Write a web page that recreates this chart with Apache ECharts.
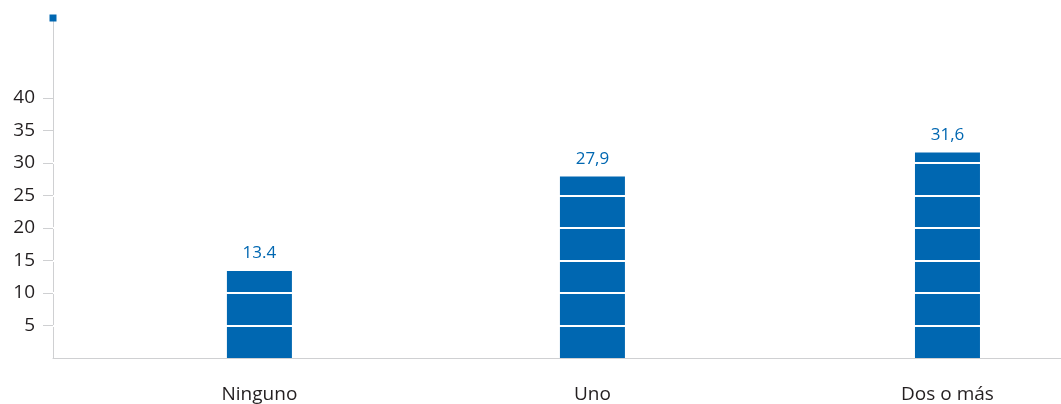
<!DOCTYPE html>
<html>
<head>
<meta charset="utf-8">
<script src="https://cdn.jsdelivr.net/npm/echarts@6/dist/echarts.min.js"></script>
<style>
  html, body { margin: 0; padding: 0; background: #fff; }
  #chart { width: 1061px; height: 404px; }
</style>
</head>
<body>
<div id="chart"></div>
<script>
var categories = ["Ninguno", "Uno", "Dos o más"];
var positions = [1, 1.968, 3];
var values = [13.4, 27.9, 31.6];
var valueLabels = ["13.4", "27,9", "31,6"];
var yTicks = [5, 10, 15, 20, 25, 30, 35, 40];
var whiteLines = [5, 10, 15, 20, 25, 30];

var blue = "#0067b1";
var chart = echarts.init(document.getElementById("chart"));

var barData = values.map(function (v, i) {
  return [positions[i], v];
});
var labelData = values.map(function (v, i) {
  return { value: [positions[i], v], label: { formatter: valueLabels[i] } };
});

var option = {
  animation: false,
  grid: { left: 53, right: 0, top: 18, bottom: 46 },
  xAxis: {
    type: "value",
    min: 0.4,
    max: 3.33,
    splitLine: { show: false },
    axisLine: { show: true, lineStyle: { color: "#cfd0d2", width: 1 } },
    axisTick: { show: false },
    axisLabel: {
      customValues: positions,
      formatter: function (v) {
        return categories[positions.indexOf(v)] || "";
      },
      color: "#231f20",
      fontSize: 19,
      fontFamily: "Open Sans",
      margin: 27
    }
  },
  yAxis: {
    type: "value",
    min: 0,
    max: 52.3,
    splitLine: { show: false },
    axisLine: {
      show: true,
      lineStyle: { color: "#cfd0d2", width: 1 }
    },
    axisTick: {
      show: true,
      customValues: yTicks,
      length: 10,
      lineStyle: { color: "#cfd0d2" }
    },
    axisLabel: {
      customValues: yTicks,
      color: "#231f20",
      fontSize: 19,
      fontFamily: "Open Sans",
      margin: 18
    }
  },
  series: [
    {
      type: "bar",
      z: 2,
      barWidth: 65,
      data: barData,
      itemStyle: { color: blue },
      markLine: {
        silent: true,
        z: 3,
        symbol: "none",
        label: { show: false },
        lineStyle: { color: "#fff", width: 2, type: "solid" },
        data: whiteLines.map(function (y) { return { yAxis: y }; })
      }
    },
    {
      type: "scatter",
      z: 4,
      symbolSize: 0,
      data: labelData,
      itemStyle: { color: blue, opacity: 1 },
      label: {
        show: true,
        position: "top",
        distance: 9,
        color: blue,
        fontSize: 17,
        fontFamily: "Open Sans"
      }
    },
    {
      type: "scatter",
      symbol: "rect",
      symbolSize: 7,
      clip: false,
      itemStyle: { color: blue, opacity: 1 },
      data: [[0.4, 52.3]]
    }
  ]
};
chart.setOption(option);
</script>
</body>
</html>
